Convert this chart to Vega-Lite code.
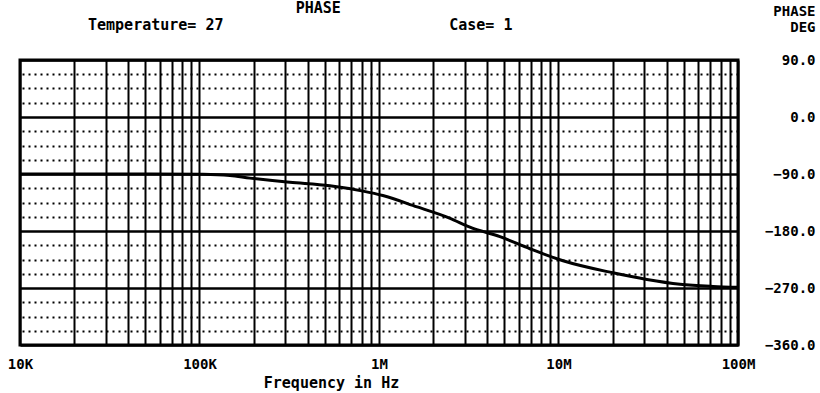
{
  "$schema": "https://vega.github.io/schema/vega-lite/v6.json",
  "autosize": "none",
  "width": 718,
  "height": 285,
  "padding": {"left": 20, "top": 60, "right": 82, "bottom": 48},
  "background": "white",
  "title": {
    "text": "\u200b\u00a0\u00a0\u00a0\u00a0\u00a0\u00a0\u00a0\u00a0\u00a0\u00a0\u00a0\u00a0\u00a0\u00a0\u00a0\u00a0\u00a0\u00a0\u00a0\u00a0\u00a0\u00a0\u00a0PHASE",
    "subtitle": "Temperature=\u00a027\u00a0\u00a0\u00a0\u00a0\u00a0\u00a0\u00a0\u00a0\u00a0\u00a0\u00a0\u00a0\u00a0\u00a0\u00a0\u00a0\u00a0\u00a0\u00a0\u00a0\u00a0\u00a0\u00a0\u00a0\u00a0Case=\u00a01",
    "anchor": "start",
    "frame": "group",
    "dx": 68,
    "offset": -29,
    "subtitlePadding": 2,
    "font": "DejaVu Sans Mono",
    "fontSize": 15,
    "fontWeight": "bold",
    "color": "black",
    "subtitleFont": "DejaVu Sans Mono",
    "subtitleFontSize": 15,
    "subtitleFontWeight": "bold",
    "subtitleColor": "black"
  },
  "config": {
    "view": {"stroke": "black", "strokeWidth": 3},
    "axis": {
      "labelFont": "DejaVu Sans Mono",
      "labelFontWeight": "bold",
      "labelFontSize": 14,
      "labelColor": "black",
      "titleFont": "DejaVu Sans Mono",
      "titleFontWeight": "bold",
      "titleFontSize": 15,
      "titleColor": "black",
      "domain": false,
      "ticks": false,
      "gridColor": "black",
      "gridOpacity": 1
    }
  },
  "data": {
    "values": [
      {"freq": 10000, "phase": -90},
      {"freq": 27900, "phase": -90},
      {"freq": 53000, "phase": -90},
      {"freq": 104600, "phase": -90.5},
      {"freq": 148000, "phase": -92.5},
      {"freq": 191000, "phase": -96.5},
      {"freq": 247000, "phase": -100},
      {"freq": 319000, "phase": -103},
      {"freq": 533000, "phase": -108.5},
      {"freq": 815000, "phase": -117},
      {"freq": 1050000, "phase": -124},
      {"freq": 1630000, "phase": -142},
      {"freq": 2490000, "phase": -160},
      {"freq": 3210000, "phase": -174},
      {"freq": 4720000, "phase": -189},
      {"freq": 6930000, "phase": -208},
      {"freq": 10600000, "phase": -227},
      {"freq": 20100000, "phase": -246},
      {"freq": 31100000, "phase": -256.5},
      {"freq": 47500000, "phase": -264},
      {"freq": 72600000, "phase": -267.5},
      {"freq": 100000000, "phase": -269}
    ]
  },
  "mark": {"type": "line", "color": "black", "strokeWidth": 3, "interpolate": "monotone"},
  "encoding": {
    "x": {
      "field": "freq",
      "type": "quantitative",
      "scale": {"type": "log", "domain": [10000, 100000000], "nice": false},
      "axis": {
        "values": [10000, 20000, 30000, 40000, 50000, 60000, 70000, 80000, 90000,
                   100000, 200000, 300000, 400000, 500000, 600000, 700000, 800000, 900000,
                   1000000, 2000000, 3000000, 4000000, 5000000, 6000000, 7000000, 8000000, 9000000,
                   10000000, 20000000, 30000000, 40000000, 50000000, 60000000, 70000000, 80000000, 90000000,
                   100000000],
        "labelExpr": "datum.value==1e4?'10K':datum.value==1e5?'100K':datum.value==1e6?'1M':datum.value==1e7?'10M':datum.value==1e8?'100M':''",
        "labelFlush": false,
        "labelOverlap": false,
        "labelAlign": "center",
        "labelPadding": 12,
        "grid": true,
        "gridWidth": 2,
        "title": "Frequency in Hz",
        "titleX": 311,
        "titleY": 37,
        "titleBaseline": "middle",
        "titleAlign": "center"
      }
    },
    "y": {
      "field": "phase",
      "type": "quantitative",
      "scale": {"domain": [-360, 90], "nice": false, "zero": false},
      "axis": {
        "orient": "right",
        "values": [-360, -337.5, -315, -292.5, -270, -247.5, -225, -202.5, -180, -157.5, -135, -112.5, -90, -67.5, -45, -22.5, 0, 22.5, 45, 67.5, 90],
        "labelExpr": "datum.value % 90 == 0 ? format(datum.value, '.1f') : ''",
        "labelAlign": "right",
        "labelBaseline": "middle",
        "labelPadding": 77,
        "labelOverlap": false,
        "labelFlush": false,
        "grid": true,
        "gridWidth": {"condition": {"test": "datum.value % 90 != 0", "value": 2}, "value": 2.5},
        "gridDash": {"condition": {"test": "datum.value % 90 != 0", "value": [2, 4]}, "value": []},
        "title": ["PHASE", "DEG"],
        "titleAngle": 0,
        "titleAlign": "right",
        "titleBaseline": "top",
        "titleX": 77,
        "titleY": -56,
        "titleLineHeight": 16,
        "titleFontSize": 14
      }
    }
  }
}
